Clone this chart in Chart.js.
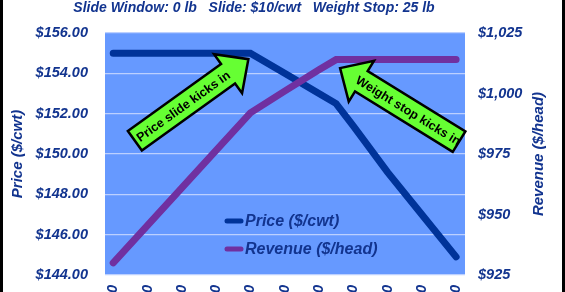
<!DOCTYPE html>
<html>
<head>
<meta charset="utf-8">
<script src="https://cdn.jsdelivr.net/npm/chart.js@4.4.1/dist/chart.umd.min.js"></script>
<style>
  html, body { margin: 0; padding: 0; background: #000; overflow: hidden; }
  #wrap { position: absolute; left: 3px; top: 0; width: 559px; height: 292px; overflow: hidden; background: #fff; }
</style>
</head>
<body>
<div id="wrap"><canvas id="slideChart" width="559" height="320"></canvas></div>
<script>
// Data
const weights = [600, 610, 620, 630, 640, 650, 660, 665, 670, 680, 690, 700];
const priceValues = [155, 155, 155, 155, 155, 154, 153, 152.5, 151.4, 149.1, 147.0, 144.9];
const revenueValues = [930, 945.5, 961, 976.5, 992, 1001, 1009.8, 1014, 1014, 1014, 1014, 1014];
const xTickValues = [600, 610, 620, 630, 640, 650, 660, 670, 680, 690, 700];
const xTickLabels = ['600', '610', '620', '630', '640', '650', '660', '670', '680', '690', '700'];
const seriesNames = ['Price ($/cwt)', 'Revenue ($/head)'];

const textBlue = '#12348f';
const axisFont = { family: 'Liberation Sans, Arial, sans-serif', size: 14.5, weight: 'bold', style: 'italic' };

// plot background, titles, legend, arrows
const decorPlugin = {
  id: 'decor',
  beforeDraw(chart) {
    const { ctx, chartArea: a } = chart;
    ctx.save();
    ctx.fillStyle = '#6699ff';
    ctx.fillRect(a.left, a.top, a.right - a.left, a.bottom - a.top);
    ctx.restore();
  },
  afterDatasetsDraw(chart) {
    const { ctx, chartArea: a, scales } = chart;
    const midY = (a.top + a.bottom) / 2;

    // title
    ctx.save();
    ctx.fillStyle = textBlue;
    ctx.font = 'italic bold 14px "Liberation Sans", Arial, sans-serif';
    ctx.textAlign = 'center';
    ctx.textBaseline = 'middle';
    ctx.fillText('Slide Window: 0 lb   Slide: $10/cwt   Weight Stop: 25 lb', 251, 8);

    // axis titles
    ctx.font = 'italic bold 15px "Liberation Sans", Arial, sans-serif';
    ctx.save();
    ctx.translate(15, midY);
    ctx.rotate(-Math.PI / 2);
    ctx.fillText('Price ($/cwt)', 0, 0);
    ctx.restore();
    ctx.save();
    ctx.translate(536, midY);
    ctx.rotate(-Math.PI / 2);
    ctx.fillText('Revenue ($/head)', 0, 0);
    ctx.restore();

    // legend
    const colors = chart.data.datasets.map(d => d.borderColor);
    const legendX = a.left + 120;
    const legendY = [a.bottom - 54, a.bottom - 26];
    ctx.font = 'italic bold 16px "Liberation Sans", Arial, sans-serif';
    ctx.textAlign = 'left';
    seriesNames.forEach((name, i) => {
      ctx.strokeStyle = colors[i];
      ctx.lineWidth = 5;
      ctx.lineCap = 'round';
      ctx.beginPath();
      ctx.moveTo(legendX + 2, legendY[i]);
      ctx.lineTo(legendX + 16, legendY[i]);
      ctx.stroke();
      ctx.fillStyle = textBlue;
      ctx.fillText(name, legendX + 20, legendY[i] + 1);
    });
    ctx.restore();

    // callout arrows
    const x = scales.x, y = scales.y, y1 = scales.y1;
    const tip1 = { x: x.getPixelForValue(640) - 2, y: y.getPixelForValue(155) + 6 };
    drawArrow(ctx, { x: tip1.x - 113.5, y: tip1.y + 81.5 }, tip1, 'Price slide kicks in');
    const tip2 = { x: x.getPixelForValue(665) + 4, y: y1.getPixelForValue(1014) + 8.5 };
    drawArrow(ctx, { x: tip2.x + 119, y: tip2.y + 73.5 }, tip2, 'Weight stop kicks in');
  }
};

function drawArrow(ctx, tail, tip, text) {
  const dx = tip.x - tail.x, dy = tip.y - tail.y;
  const len = Math.hypot(dx, dy);
  const ang = Math.atan2(dy, dx);
  const bh = 12, hh = 24, hl = 25;
  ctx.save();
  ctx.translate(tail.x, tail.y);
  ctx.rotate(ang);
  ctx.beginPath();
  ctx.moveTo(0, -bh);
  ctx.lineTo(len - hl, -bh);
  ctx.lineTo(len - hl, -hh);
  ctx.lineTo(len, 0);
  ctx.lineTo(len - hl, hh);
  ctx.lineTo(len - hl, bh);
  ctx.lineTo(0, bh);
  ctx.closePath();
  ctx.fillStyle = '#66ff33';
  ctx.fill();
  ctx.lineWidth = 2.5;
  ctx.lineJoin = 'miter';
  ctx.strokeStyle = '#000';
  ctx.stroke();
  // keep text upright
  ctx.translate((len - hl) / 2 + 2, 0);
  if (Math.cos(ang) < 0) ctx.rotate(Math.PI);
  ctx.fillStyle = '#000';
  ctx.font = 'bold 12.5px "Liberation Sans", Arial, sans-serif';
  ctx.textAlign = 'center';
  ctx.textBaseline = 'middle';
  ctx.fillText(text, 0, 1);
  ctx.restore();
}

const ctx = document.getElementById('slideChart');
new Chart(ctx, {
  type: 'line',
  data: {
    datasets: [{
      label: seriesNames[0],
      data: weights.map((w, i) => ({ x: w, y: priceValues[i] })),
      borderColor: '#003399',
      borderWidth: 7,
      borderCapStyle: 'round',
      pointRadius: 0,
      tension: 0,
      yAxisID: 'y',
      order: 1
    }, {
      label: seriesNames[1],
      data: weights.map((w, i) => ({ x: w, y: revenueValues[i] })),
      borderColor: '#7030a0',
      borderWidth: 7,
      borderCapStyle: 'round',
      pointRadius: 0,
      tension: 0,
      yAxisID: 'y1',
      order: 0
    }]
  },
  options: {
    responsive: false,
    animation: false,
    devicePixelRatio: 1,
    layout: {
      padding: { top: 33, left: 0, right: 0, bottom: 0 }
    },
    scales: {
      x: {
        type: 'linear',
        min: 597.6,
        max: 702.6,
        afterBuildTicks: scale => { scale.ticks = xTickValues.map(v => ({ value: v })); },
        afterFit: scale => { scale.height = 320 - 275; },
        ticks: {
          callback: (val) => xTickLabels[xTickValues.indexOf(val)],
          color: textBlue,
          font: axisFont,
          minRotation: 90,
          maxRotation: 90,
          padding: 10,
          autoSkip: false
        },
        grid: { display: false, drawTicks: false },
        border: { display: false }
      },
      y: {
        position: 'left',
        min: 144,
        max: 156,
        afterFit: scale => { scale.width = 102; },
        ticks: {
          stepSize: 2,
          color: textBlue,
          font: axisFont,
          padding: 17,
          callback: v => '$' + v.toFixed(2)
        },
        grid: { color: '#bcd0ff', lineWidth: 1.2, drawTicks: false },
        border: { display: false }
      },
      y1: {
        position: 'right',
        min: 925,
        max: 1025,
        afterFit: scale => { scale.width = 97; },
        ticks: {
          stepSize: 25,
          color: textBlue,
          font: axisFont,
          padding: 13,
          callback: v => '$' + v.toLocaleString('en-US')
        },
        grid: { display: false, drawTicks: false },
        border: { display: false }
      }
    },
    plugins: {
      legend: { display: false },
      tooltip: { enabled: false }
    }
  },
  plugins: [decorPlugin]
});
</script>
</body>
</html>
